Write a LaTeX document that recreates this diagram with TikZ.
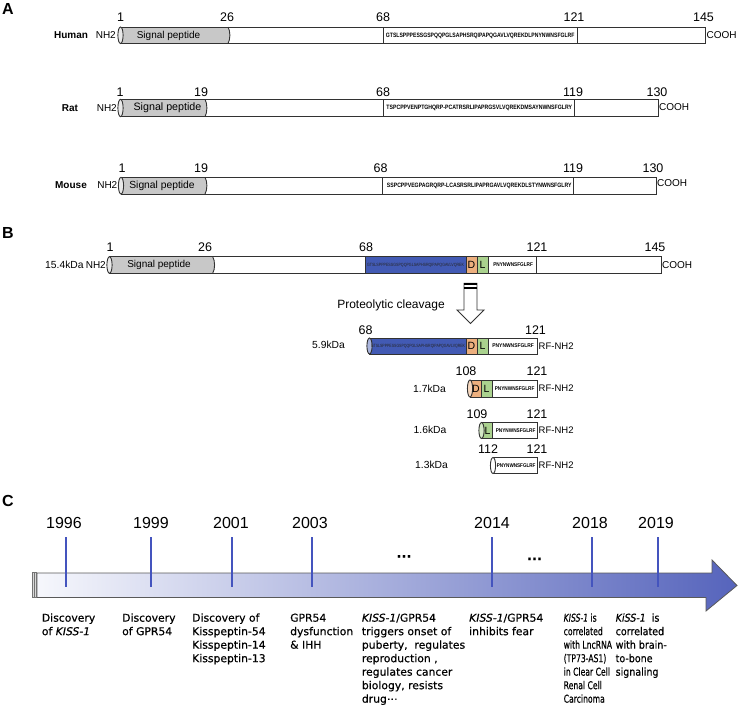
\documentclass[tikz,border=0pt]{standalone}
\usepackage{fontspec}
\usepackage{graphicx}
\setmainfont{Liberation Sans}
\newfontfamily\djv[FakeBold=0.5]{DejaVu Sans}
\definecolor{sigGray}{RGB}{200,200,200}
\definecolor{blueBox}{RGB}{66,90,180}
\definecolor{dBox}{RGB}{236,175,126}
\definecolor{lBox}{RGB}{170,210,142}
\definecolor{tickBlue}{RGB}{68,84,190}
\definecolor{tlL}{RGB}{246,247,252}
\definecolor{tlR}{RGB}{86,100,188}
\definecolor{lineGray}{RGB}{50,50,50}
\newcommand\sigseg[4]{%
  \fill[sigGray] (#1,#3) -- (#2,#3) .. controls ({#2+2.5},{#3+4}) and ({#2+2.5},{#4-4}) .. (#2,#4) -- (#1,#4) -- cycle;
  \draw[bline] (#2,#3) .. controls ({#2+2.5},{#3+4}) and ({#2+2.5},{#4-4}) .. (#2,#4);}
\newcommand\lcap[4]{\draw[bline, fill=#4] (#1,{(#2+#3)/2}) ellipse [x radius=2.6, y radius={(#3-#2)/2}];}
\newcommand\seqt[4]{\resizebox{#1}{#2}{\fontsize{5}{6}\selectfont#3 #4}}
\newcommand\evtab[1]{\begin{tabular}{@{}l@{}}#1\end{tabular}}
\begin{document}
\begin{tikzpicture}[x=1pt,y=-1pt,
 bline/.style={draw=lineGray, line width=0.9pt},
 num/.style={font=\fontsize{12.5}{14}\selectfont, inner sep=0},
 lab/.style={font=\fontsize{10}{12}\selectfont, inner sep=0},
 species/.style={font=\fontsize{10}{12}\selectfont\bfseries, inner sep=0},
 panel/.style={font=\fontsize{16}{18}\selectfont\bfseries, inner sep=0, anchor=north west},
 kda/.style={font=\fontsize{10.3}{12}\selectfont, inner sep=0},
 rfn/.style={font=\fontsize{9.5}{11}\selectfont, inner sep=0, anchor=west},
 seq/.style={inner sep=0},
 dl/.style={font=\fontsize{10.5}{12}\selectfont, inner sep=0},
 year/.style={font=\fontsize{16}{18}\selectfont, inner sep=0},
 tick/.style={draw=tickBlue, line width=1.5pt},
 evt/.style={font=\djv\fontsize{10.8}{13.5}\selectfont, inner sep=0, anchor=north west},
]
\useasboundingbox (0,0) rectangle (738,715);

% ---------------- Panel A ----------------
\node[panel] (pA) at (2,3) {A};

% Human
\fill[white] (120.5,27) rectangle (705,43.5);
\sigseg{120.5}{228}{27}{43.5}
\draw[bline] (383,27) -- (383,43.5) (577,27) -- (577,43.5);
\draw[bline] (120.5,27) rectangle (705,43.5);
\lcap{120.5}{27}{43.5}{sigGray!40}
\node[species] (hum) at (71,35.5) {Human};
\node[lab, anchor=east] (hnh) at (116,35.5) {NH2};
\node[lab] (hsig) at (168.5,35.5) {Signal peptide};
\node[seq] (hseq) at (479.5,35.5) {\seqt{190pt}{4.4pt}{\bfseries}{GTSLSPPPESSGSPQQPGLSAPHSRQIPAPQGAVLVQREKDLPNYNWNSFGLRF}};
\node[lab, anchor=west] (hco) at (706.5,35.5) {COOH};
\node[num] (h1) at (120.5,17.5) {1};
\node[num] (h26) at (227,17.5) {26};
\node[num] (h68) at (383,17.5) {68};
\node[num] (h121) at (574,17.5) {121};
\node[num] (h145) at (703.5,17.5) {145};

% Rat
\fill[white] (120.5,99.3) rectangle (658,116.7);
\sigseg{120.5}{205}{99.3}{116.7}
\draw[bline] (383,99.3) -- (383,116.7) (574,99.3) -- (574,116.7);
\draw[bline] (120.5,99.3) rectangle (658,116.7);
\lcap{120.5}{99.3}{116.7}{sigGray!40}
\node[species] (rat) at (70,108) {Rat};
\node[lab, anchor=east] (rnh) at (117,108) {NH2};
\node[lab, font=\fontsize{10.7}{12}\selectfont] (rsig) at (167.5,108) {Signal peptide};
\node[seq] (rseq) at (478.5,108) {\seqt{187pt}{4.4pt}{\bfseries}{TSPCPPVENPTGHQRP-PCATRSRLIPAPRGSVLVQREKDMSAYNWNSFGLRY}};
\node[lab, anchor=west] (rco) at (659,107) {COOH};
\node[num] (r1) at (120,91.8) {1};
\node[num] (r19) at (201,91.8) {19};
\node[num] (r68) at (383,91.8) {68};
\node[num] (r119) at (573,91.8) {119};
\node[num] (r130) at (657,91.8) {130};

% Mouse
\fill[white] (121,177.3) rectangle (656,194);
\sigseg{121}{205}{177.3}{194}
\draw[bline] (382,177.3) -- (382,194) (573,177.3) -- (573,194);
\draw[bline] (121,177.3) rectangle (656,194);
\lcap{121}{177.3}{194}{sigGray!40}
\node[species] (mou) at (71,185.5) {Mouse};
\node[lab, anchor=east] (mnh) at (117.5,185.5) {NH2};
\node[lab, font=\fontsize{10.3}{12}\selectfont] (msig) at (162,185.5) {Signal peptide};
\node[seq] (mseq) at (478.5,185.5) {\seqt{186pt}{4.4pt}{\bfseries}{SSPCPPVEGPAGRQRP-LCASRSRLIPAPRGAVLVQREKDLSTYNWNSFGLRY}};
\node[lab, anchor=west] (mco) at (657,183.5) {COOH};
\node[num] (m1) at (122,168) {1};
\node[num] (m19) at (201,168) {19};
\node[num] (m68) at (380.5,168) {68};
\node[num] (m119) at (573,168) {119};
\node[num] (m130) at (653,168) {130};

% ---------------- Panel B ----------------
\node[panel] (pB) at (2,227) {B};

\fill[white] (109.5,256.7) rectangle (661,273.3);
\sigseg{109.5}{212.7}{256.7}{273.3}
\fill[blueBox] (365,256.7) rectangle (466,273.3);
\fill[dBox] (466,256.7) rectangle (477,273.3);
\fill[lBox] (477,256.7) rectangle (488,273.3);
\draw[bline] (365,256.7) -- (365,273.3) (466,256.7) -- (466,273.3) (477,256.7) -- (477,273.3) (488,256.7) -- (488,273.3) (536,256.7) -- (536,273.3);
\draw[bline] (109.5,256.7) rectangle (661,273.3);
\lcap{109.5}{256.7}{273.3}{sigGray!40}
\node[kda, anchor=east] (bkda) at (83.8,265) {15.4kDa};
\node[lab, anchor=east] (bnh) at (106,265) {NH2};
\node[lab] (bsig) at (159,265) {Signal peptide};
\node[seq] (bseq) at (415.5,265) {\seqt{97pt}{3.2pt}{\color{black!85}}{GTSLSPPPESSGSPQQPGLSAPHSRQIPAPQGAVLVQREK}};
\node[dl] (bD) at (471.5,265) {D};
\node[dl] (bL) at (482.5,265) {L};
\node[seq] (bpn) at (512.5,265) {\seqt{41pt}{3.8pt}{\bfseries}{PNYNWNSFGLRF}};
\node[lab, anchor=west] (bco) at (662,265) {COOH};
\node[num] (b1) at (110,247.5) {1};
\node[num] (b26) at (205,247.5) {26};
\node[num] (b68) at (366,247.5) {68};
\node[num] (b121) at (537,247.5) {121};
\node[num] (b145) at (655,247.5) {145};

% cleavage arrow
\draw[bline, fill=white, line join=miter] (464,283.3) -- (477,283.3) -- (477,310) -- (484,310) -- (470.5,323.5) -- (457,310) -- (464,310) -- cycle;
\fill[black] (464,283.3) rectangle (477,285.2);
\fill[black] (464,286.7) rectangle (477,288.5);
\node[font=\fontsize{12}{14}\selectfont, inner sep=0] (pc) at (391,305) {Proteolytic cleavage};

% 5.9 kDa
\fill[white] (369.5,338) rectangle (537,354);
\fill[blueBox] (369.5,338) rectangle (466,354);
\fill[dBox] (466,338) rectangle (477,354);
\fill[lBox] (477,338) rectangle (488,354);
\draw[bline] (466,338) -- (466,354) (477,338) -- (477,354) (488,338) -- (488,354);
\draw[bline] (369.5,338) rectangle (537,354);
\lcap{369.5}{338}{354}{blueBox!45}
\node[seq] (s1seq) at (418,346) {\seqt{94pt}{3.2pt}{\color{black!85}}{GTSLSPPPESSGSPQQPGLSAPHSRQIPAPQGAVLVQREK}};
\node[dl] (s1D) at (471.5,346) {D};
\node[dl] (s1L) at (482.5,346) {L};
\node[seq] (s1pn) at (512.5,346) {\seqt{43pt}{3.8pt}{\bfseries}{PNYNWNSFGLRF}};
\node[rfn] (s1rf) at (538.5,346) {RF-NH2};
\node[kda] (s1k) at (328.5,345) {5.9kDa};
\node[num] (s1a) at (365.5,330) {68};
\node[num] (s1b) at (535.5,330) {121};

% 1.7 kDa
\fill[white] (470,380) rectangle (537,397);
\fill[dBox] (470,380) rectangle (481,397);
\fill[lBox] (481,380) rectangle (492,397);
\draw[bline] (481,380) -- (481,397) (492,380) -- (492,397);
\draw[bline] (470,380) rectangle (537,397);
\lcap{470}{380}{397}{dBox!50}
\node[dl] (s2D) at (476,388.5) {D};
\node[dl] (s2L) at (486.5,388.5) {L};
\node[seq] (s2pn) at (514,388.5) {\seqt{41pt}{3.8pt}{\bfseries}{PNYNWNSFGLRF}};
\node[rfn] (s2rf) at (538.5,388.5) {RF-NH2};
\node[kda] (s2k) at (429.5,389) {1.7kDa};
\node[num] (s2a) at (466,371) {108};
\node[num] (s2b) at (537,371) {121};

% 1.6 kDa
\fill[white] (481.5,422.5) rectangle (537,438.5);
\fill[lBox] (481.5,422.5) rectangle (492,438.5);
\draw[bline] (492,422.5) -- (492,438.5);
\draw[bline] (481.5,422.5) rectangle (537,438.5);
\lcap{481.5}{422.5}{438.5}{lBox!50}
\node[dl] (s3L) at (487.5,430.5) {L};
\node[seq] (s3pn) at (515,430.5) {\seqt{41pt}{3.8pt}{\bfseries}{PNYNWNSFGLRF}};
\node[rfn] (s3rf) at (538.5,430.5) {RF-NH2};
\node[kda] (s3k) at (430,429.5) {1.6kDa};
\node[num] (s3a) at (477,414) {109};
\node[num] (s3b) at (537,414) {121};

% 1.3 kDa
\fill[white] (493,457.5) rectangle (537,473.5);
\draw[bline] (493,457.5) rectangle (537,473.5);
\lcap{493}{457.5}{473.5}{white}
\node[seq] (s4pn) at (515.5,465.5) {\seqt{40pt}{3.8pt}{\bfseries}{PNYNWNSFGLRF}};
\node[rfn] (s4rf) at (538.5,465.5) {RF-NH2};
\node[kda] (s4k) at (431.5,465) {1.3kDa};
\node[num] (s4a) at (488,449) {112};
\node[num] (s4b) at (537,449) {121};

% ---------------- Panel C ----------------
\node[panel] (pC) at (2,495) {C};

\shadedraw[left color=tlL, right color=tlR, draw=black!65, line width=0.8pt, line join=miter]
  (37,573) -- (712,573) -- (712,560) -- (737,585.5) -- (706,611) -- (706,597.5) -- (37,597.5) -- cycle;
\draw[draw=black!55, fill=gray!30, line width=0.7pt] (32.5,572.5) rectangle (36.5,597.5);
\draw[draw=black!55, line width=0.6pt] (34.5,572.5) -- (34.5,597.5);

\node[year] (y1) at (64,522.5) {1996};
\node[year] (y2) at (151,522.5) {1999};
\node[year] (y3) at (231,522.5) {2001};
\node[year] (y4) at (310,522.5) {2003};
\node[year] (y5) at (492,522.5) {2014};
\node[year] (y6) at (590,522.5) {2018};
\node[year] (y7) at (656,522.5) {2019};

\coordinate (t1a) at (66,537);  \coordinate (t1b) at (66,587);
\coordinate (t2a) at (151,537); \coordinate (t2b) at (151,587);
\coordinate (t3a) at (232,537); \coordinate (t3b) at (232,587);
\coordinate (t4a) at (312,537); \coordinate (t4b) at (312,587);
\coordinate (t5a) at (492,537); \coordinate (t5b) at (492,587);
\coordinate (t6a) at (592,537); \coordinate (t6b) at (592,587);
\coordinate (t7a) at (658,537); \coordinate (t7b) at (658,587);
\foreach \i in {1,...,7} {\draw[tick] (t\i a) -- (t\i b);}

\node[font=\djv\bfseries\fontsize{13}{14}\selectfont, inner sep=0, anchor=base] (d1) at (404,557.5) {...};
\node[font=\djv\bfseries\fontsize{13}{14}\selectfont, inner sep=0, anchor=base] (d2) at (534.5,560) {...};

\node[evt] (e1) at (41.7,612) {\evtab{Discovery\\of \textit{KISS-1}}};
\node[evt] (e2) at (122,612) {\evtab{Discovery\\of GPR54}};
\node[evt] (e3) at (192,612) {\evtab{Discovery of\\Kisspeptin-54\\Kisspeptin-14\\Kisspeptin-13}};
\node[evt] (e4) at (290,612) {\evtab{GPR54\\dysfunction\\\& IHH}};
\node[evt] (e5) at (361.7,612) {\evtab{\textit{KISS-1}/GPR54\\triggers onset of\\puberty,~ regulates\\reproduction ,\\regulates cancer\\biology, resists\\drug⋯}};
\node[evt] (e6) at (469,612) {\evtab{\textit{KISS-1}/GPR54\\inhibits fear}};
\node[evt] (e7) at (563.5,612) {\scalebox{0.71}[1]{\evtab{\textit{KISS-1} is\\correlated\\with LncRNA\\(TP73-AS1)\\in Clear Cell\\Renal Cell\\Carcinoma}}};
\node[evt] (e8) at (615.5,612) {\scalebox{0.88}[1]{\evtab{\textit{KiSS-1}~ is\\correlated\\with brain-\\to-bone\\signaling}}};
\end{tikzpicture}
\end{document}
